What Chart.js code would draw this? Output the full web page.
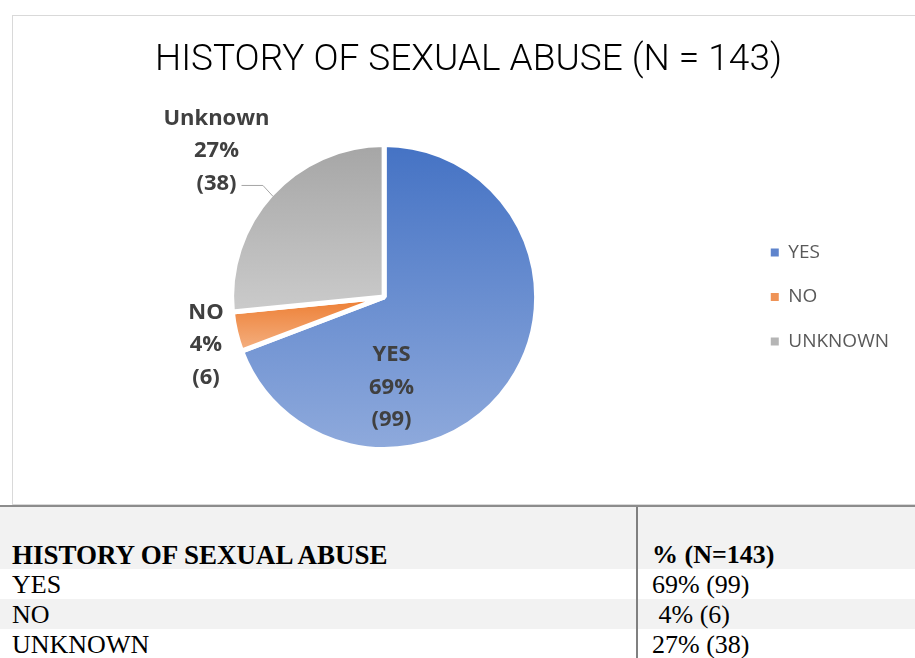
<!DOCTYPE html>
<html>
<head>
<meta charset="utf-8">
<script src="https://cdn.jsdelivr.net/npm/chart.js@4.4.1/dist/chart.umd.min.js"></script>
<style>
  html, body { margin: 0; padding: 0; background: #fff; width: 915px; height: 658px; overflow: hidden; position: relative; }
  #box { position: absolute; left: 12px; top: 15px; width: 913px; height: 490px; box-sizing: border-box; border: 1px solid #d9d9d9; }
  #box canvas { display: block; }
  #tableTop { position: absolute; left: 0; top: 505px; width: 915px; height: 2px; background: #8c8c8c; }
  .row { position: absolute; left: 0; width: 915px; font-family: "Liberation Serif", "Times New Roman", serif; font-size: 26px; line-height: 30px; color: #000; white-space: pre; }
  .row .c1 { position: absolute; left: 12px; bottom: -1px; }
  .row .c2 { position: absolute; left: 652px; bottom: -1px; }
  .hdr { font-weight: bold; }
  .hdr .c1 { font-size: 27px; }
  #vline { position: absolute; left: 636px; top: 507px; width: 2px; height: 151px; background: #808080; }
</style>
</head>
<body>
<div id="box"><canvas id="chart" width="911" height="488"></canvas></div>
<div id="tableTop"></div>
<div id="table"></div>
<div id="vline"></div>
<script>
// ---- data ----
const categories = ['YES', 'NO', 'UNKNOWN'];
const sliceNames = ['YES', 'NO', 'Unknown'];
const counts = [99, 6, 38];
const percents = [69, 4, 27];
const sampleSize = 143;
const chartTitle = 'HISTORY OF SEXUAL ABUSE (N = 143)';
const tableHeader = ['HISTORY OF SEXUAL ABUSE', '% (N=143)'];

// ---- styles ----
const gradStops = [['#4472C4', '#8FAADC'], ['#ED7D31', '#F4B183'], ['#A5A5A5', '#CBCBCB']];
const legendColors = ['#5F84CC', '#EF9357', '#B5B5B5'];
const labelPlacement = [
  { radius: 0.6, shift: 50.7, dx: 0, dy: 1, leader: false },
  { radius: 1.22, shift: 0, dx: 0, dy: 6, leader: false },
  { radius: 1.49, shift: 0, dx: -2, dy: 4, leader: true }
];

// ---- table ----
(function buildTable() {
  const t = document.getElementById('table');
  const rows = [{ top: 507, h: 62, bg: '#f2f2f2', cls: 'hdr', a: tableHeader[0], b: tableHeader[1] }];
  categories.forEach((c, i) => {
    rows.push({ top: 569 + i * 30, h: 30, bg: i % 2 === 1 ? '#f2f2f2' : '#ffffff', cls: '',
      a: c, b: String(percents[i]).padStart(2, ' ') + '% (' + counts[i] + ')' });
  });
  rows.forEach(r => {
    const d = document.createElement('div');
    d.className = 'row ' + r.cls;
    d.style.top = r.top + 'px'; d.style.height = r.h + 'px'; d.style.background = r.bg;
    const a = document.createElement('span'); a.className = 'c1'; a.textContent = r.a;
    const b = document.createElement('span'); b.className = 'c2'; b.textContent = r.b;
    d.appendChild(a); d.appendChild(b); t.appendChild(d);
  });
})();

// ---- gradient per slice ----
function sliceGradient(ctx) {
  const chart = ctx.chart, area = chart.chartArea, i = ctx.dataIndex;
  if (!area) return gradStops[i][0];
  const vals = chart.data.datasets[0].data;
  const sum = vals.reduce((a, b) => a + b, 0);
  let cum = 0; for (let k = 0; k < i; k++) cum += vals[k];
  const cx = (area.left + area.right) / 2, cy = (area.top + area.bottom) / 2;
  const r = Math.min(area.width, area.height) / 2;
  const s = -Math.PI / 2 + 2 * Math.PI * cum / sum;
  const e = s + 2 * Math.PI * vals[i] / sum;
  const ys = [cy, cy + r * Math.sin(s), cy + r * Math.sin(e)];
  [-Math.PI / 2, Math.PI / 2, 3 * Math.PI / 2].forEach(a => { if (a >= s && a <= e) ys.push(cy + r * Math.sin(a)); });
  const g = chart.ctx.createLinearGradient(0, Math.min(...ys), 0, Math.max(...ys));
  g.addColorStop(0, gradStops[i][0]);
  g.addColorStop(1, gradStops[i][1]);
  return g;
}

// ---- centre the title over the whole canvas ----
const titleCentre = {
  id: 'titleCentre',
  afterLayout(chart) {
    const t = chart.titleBlock;
    if (t) { t.left = 0; t.right = chart.width; t.width = chart.width; }
  }
};

// ---- data labels ----
const pieLabels = {
  id: 'pieLabels',
  afterDatasetsDraw(chart) {
    const ctx = chart.ctx, meta = chart.getDatasetMeta(0);
    ctx.save();
    ctx.font = 'bold 22px "Open Sans"';
    ctx.fillStyle = '#404040';
    ctx.textAlign = 'center';
    ctx.textBaseline = 'middle';
    const lh = 32.5;
    meta.data.forEach((arc, i) => {
      const p = arc.getProps(['x', 'y', 'startAngle', 'endAngle', 'outerRadius'], true);
      const R = p.outerRadius - 2.5;
      const mid = (p.startAngle + p.endAngle) / 2;
      const pl = labelPlacement[i];
      const a = mid + pl.shift * Math.PI / 180;
      const lx = p.x + Math.cos(a) * R * pl.radius + pl.dx;
      const ly = p.y + Math.sin(a) * R * pl.radius + pl.dy;
      const lines = [sliceNames[i], percents[i] + '%', '(' + counts[i] + ')'];
      lines.forEach((t, k) => ctx.fillText(t, lx, ly + (k - 1) * lh));
      if (pl.leader) {
        const ex = p.x + Math.cos(mid) * R, ey = p.y + Math.sin(mid) * R;
        const lastW = ctx.measureText(lines[2]).width;
        const hy = ly + lh + 2;
        ctx.beginPath();
        ctx.strokeStyle = '#a6a6a6';
        ctx.lineWidth = 1;
        ctx.moveTo(lx + lastW / 2 + 5, hy);
        ctx.lineTo(ex - 10, hy);
        ctx.lineTo(ex, ey);
        ctx.stroke();
      }
    });
    ctx.restore();
  }
};

new Chart(document.getElementById('chart'), {
  type: 'pie',
  data: {
    labels: categories,
    datasets: [{
      data: counts,
      backgroundColor: sliceGradient,
      borderColor: '#ffffff',
      borderWidth: 5
    }]
  },
  options: {
    responsive: false,
    animation: false,
    events: [],
    layout: { padding: { top: 0, bottom: 52, left: 10, right: 25 } },
    plugins: {
      title: {
        display: true,
        text: chartTitle,
        color: '#000000',
        font: { family: 'Roboto', size: 37, weight: 300, lineHeight: 1.2 },
        padding: { top: 22.8, bottom: 58.8 }
      },
      legend: {
        display: true,
        position: 'right',
        align: 'center',
        fullSize: false,
        labels: {
          boxWidth: 8,
          boxHeight: 8,
          padding: 25.5,
          color: '#595959',
          font: { family: '"Open Sans"', size: 19 },
          generateLabels: (chart) => categories.map((c, i) => ({
            text: c, fillStyle: legendColors[i], strokeStyle: legendColors[i], lineWidth: 0, hidden: false, index: i, fontColor: '#595959'
          }))
        }
      },
      tooltip: { enabled: false }
    }
  },
  plugins: [titleCentre, pieLabels]
});
</script>
</body>
</html>
